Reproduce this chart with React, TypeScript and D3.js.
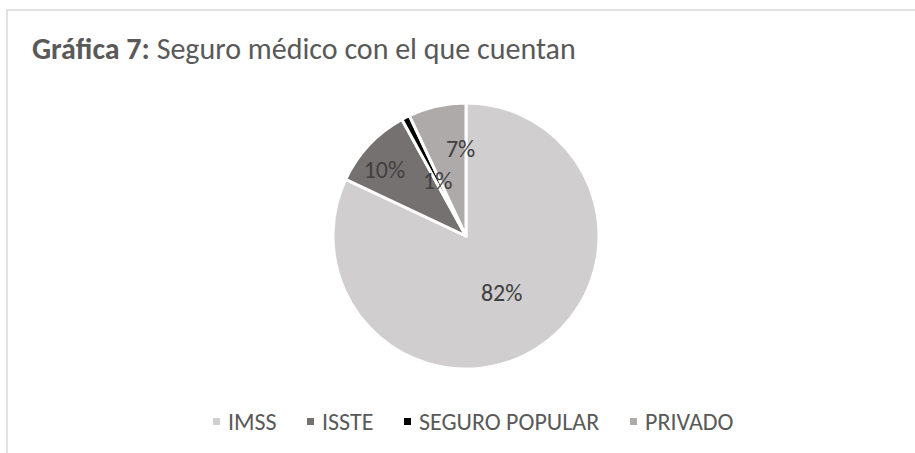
import React from 'react';
import * as d3 from 'd3';

const categories = ['IMSS', 'ISSTE', 'SEGURO POPULAR', 'PRIVADO'];
const values = [82, 10, 1, 7];
const valueLabels = ['82%', '10%', '1%', '7%'];
const colors = ['#d0cecf', '#767171', '#000000', '#aeaaaa'];

const FONT = "Carlito, Calibri, Lato, 'Open Sans', sans-serif";
const TEXT = '#595959';

export default function App() {
  const W = 915;
  const H = 453;
  const cx = 466;
  const cy = 236;
  const R = 133;

  const pie = d3.pie<number>().sort(null).value((d) => d);
  const arcs = pie(values);
  const arcGen = d3.arc<d3.PieArcDatum<number>>().innerRadius(0).outerRadius(R);

  // label placement factors (Excel best-fit approximations)
  const labelRadius = [0.5, 0.79, 0.47, 0.67];
  const labelNudgeX = [0, -5, 0, 14];
  const labelNudgeY = [0, 6, 0, 0];

  const legendStarts = [213, 307, 404, 630];

  return (
    <svg
      width={W}
      height={H}
      style={{ position: 'absolute', left: 0, top: 0, background: '#fff' }}
      fontFamily={FONT}
    >
      <rect x={7} y={10} width={W} height={H} fill="#fff" stroke="#d9d9d9" strokeWidth={1.5} />
      <text x={32} y={59} fill={TEXT} fontSize={30}>
        <tspan fontWeight="bold">Gráfica 7:</tspan>
        <tspan> Seguro médico con el que cuentan</tspan>
      </text>
      <g transform={`translate(${cx},${cy})`}>
        {arcs.map((a, i) => (
          <path key={i} d={arcGen(a) || ''} fill={colors[i]} stroke="#fff" strokeWidth={3} strokeLinejoin="round" />
        ))}
        {arcs.map((a, i) => {
          const mid = (a.startAngle + a.endAngle) / 2;
          const r = R * labelRadius[i];
          const x = Math.sin(mid) * r + labelNudgeX[i];
          const y = -Math.cos(mid) * r + labelNudgeY[i];
          return (
            <text key={i} x={x} y={y} dy="0.35em" textAnchor="middle" fill="#404040" fontSize={24}>
              {valueLabels[i]}
            </text>
          );
        })}
      </g>
      <g>
        {categories.map((c, i) => (
          <g key={c} transform={`translate(${legendStarts[i]},421.5)`}>
            <rect x={0} y={-3.5} width={7} height={7} fill={colors[i]} />
            <text x={15} y={0} dy="0.35em" fill={TEXT} fontSize={24}>
              {c}
            </text>
          </g>
        ))}
      </g>
    </svg>
  );
}
